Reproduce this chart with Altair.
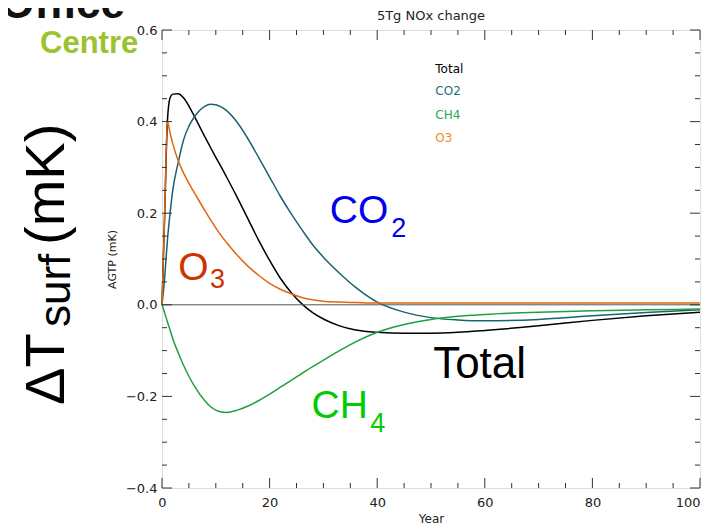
import altair as alt
import pandas as pd

# ---------------- data ----------------
years = [0, 0.5, 1, 1.5, 2, 3, 4, 5, 6, 8, 9, 10, 11, 12, 14, 16, 18, 20, 22, 24,
         26, 28, 30, 33, 36, 40, 45, 50, 55, 60, 70, 80, 90, 100]
total = [0, 0.20, 0.40, 0.452, 0.46, 0.461, 0.452, 0.434, 0.412, 0.366, 0.344, 0.322, 0.301, 0.279,
         0.234, 0.187, 0.14, 0.097, 0.058, 0.027, 0.002, -0.017, -0.031,
         -0.046, -0.055, -0.06, -0.062, -0.062, -0.06, -0.056, -0.046, -0.034, -0.024, -0.016]
co2 = [0, 0.06, 0.14, 0.20, 0.25, 0.31, 0.36, 0.39, 0.41, 0.434, 0.438, 0.437, 0.432, 0.424,
       0.398, 0.362, 0.321, 0.279, 0.237, 0.199, 0.164, 0.131, 0.104,
       0.069, 0.038, 0.006, -0.016, -0.028, -0.033, -0.035, -0.032, -0.024, -0.017, -0.011]
ch4 = [0, -0.018, -0.037, -0.055, -0.074, -0.104, -0.132, -0.156, -0.177, -0.21, -0.222, -0.23, -0.234, -0.235,
       -0.23, -0.221, -0.209, -0.195, -0.18, -0.165, -0.15, -0.135, -0.121,
       -0.1, -0.081, -0.06, -0.043, -0.032, -0.025, -0.021, -0.016, -0.013, -0.011, -0.009]
o3 = [0, 0.2, 0.4, 0.375, 0.352, 0.315, 0.288, 0.265, 0.245, 0.205, 0.186, 0.168, 0.151, 0.136,
      0.108, 0.084, 0.064, 0.047, 0.034, 0.024, 0.016, 0.011, 0.008,
      0.006, 0.005, 0.004, 0.004, 0.004, 0.004, 0.004, 0.004, 0.004, 0.004, 0.004]

series_names = ["Total", "CO2", "CH4", "O3"]
series_colors = ["#000000", "#17646f", "#1fa03e", "#e2650f"]
legend_colors = ["#000000", "#1d6b7a", "#2aa84a", "#f08a2a"]

x_major = [0, 20, 40, 60, 80, 100]
x_minor = [v for v in range(0, 101, 5) if v % 20]
y_major = [-0.4, -0.2, 0.0, 0.2, 0.4, 0.6]
y_minor = [round(-0.4 + 0.05 * i, 2) for i in range(21) if i % 4]

# ---------------- layout ----------------
W, H = 538, 458
FONT = "DejaVu Sans"
BIG = "Liberation Sans"
FRAME = "#333333"

rows = []
for name, vals in zip(series_names, [total, co2, ch4, o3]):
    for yr, v in zip(years, vals):
        rows.append({"year": yr, "value": v, "series": name, "k": series_names.index(name)})
df = pd.DataFrame(rows)

xscale = alt.Scale(domain=[0, 100], nice=False, zero=False)
yscale = alt.Scale(domain=[-0.4, 0.6], nice=False, zero=False)

XAX = alt.Axis(values=x_major, format="d", ticks=False, domain=False, grid=False,
               labelFont=FONT, labelFontSize=13, labelColor="#222222", labelPadding=8,
               labelFlush=False,
               labelAlign=alt.condition("datum.value >= 100", alt.value("right"), alt.value("center")),
               title="Year", titleFont=FONT, titleFontSize=12,
               titleFontWeight="normal", titleColor="#222222", titlePadding=4)
YAX = alt.Axis(values=y_major, format=".1f", ticks=False, domain=False, grid=False,
               labelFont=FONT, labelFontSize=13, labelColor="#222222", labelPadding=5,
               labelFlush=False, title="AGTP (mK)", titleFont=FONT, titleFontSize=11,
               titleFontWeight="normal", titleColor="#222222", titlePadding=8)


def X(field):
    return alt.X(field, scale=xscale, axis=XAX)


def Y(field):
    return alt.Y(field, scale=yscale, axis=YAX)


lines = alt.Chart(df).mark_line(strokeWidth=1.5, interpolate="monotone").encode(
    x=X("year:Q"),
    y=Y("value:Q"),
    color=alt.Color("series:N", scale=alt.Scale(domain=series_names, range=series_colors), legend=None),
    order=alt.Order("k:Q"),
)

zero_line = alt.Chart(pd.DataFrame({"z": [0.0]})).mark_rule(color="#555555", strokeWidth=1).encode(
    y=Y("z:Q")
)


def xticks(vals, L, top):
    d = pd.DataFrame({"v": vals})
    y0, y1 = (0, L) if top else (H, H - L)
    return alt.Chart(d).mark_rule(color=FRAME, strokeWidth=1).encode(
        x=X("v:Q"), y=alt.value(y0), y2=alt.value(y1))


def yticks(vals, L, right):
    d = pd.DataFrame({"v": vals})
    x0, x1 = (W, W - L) if right else (0, L)
    return alt.Chart(d).mark_rule(color=FRAME, strokeWidth=1).encode(
        y=Y("v:Q"), x=alt.value(x0), x2=alt.value(x1))


ticks = [xticks(x_major, 10, False), xticks(x_minor, 5, False),
         xticks(x_major, 10, True), xticks(x_minor, 5, True),
         yticks(y_major, 10, False), yticks(y_minor, 5, False),
         yticks(y_major, 10, True), yticks(y_minor, 5, True)]


def dtext(t, x, y, size, color, font=BIG, baseline="alphabetic"):
    return alt.Chart(pd.DataFrame({"x": [x], "y": [y], "t": [t]})).mark_text(
        align="left", baseline=baseline, font=font, fontSize=size, color=color
    ).encode(x=X("x:Q"), y=Y("y:Q"), text="t:N")


def ptext(t, px, py, size, color, font=BIG, angle=0, align="left", weight="normal"):
    return alt.Chart(pd.DataFrame({"t": [t]})).mark_text(
        align=align, baseline="alphabetic", font=font, fontSize=size, color=color,
        angle=angle, fontWeight=weight
    ).encode(x=alt.value(px), y=alt.value(py), text="t:N")


# in-plot big labels (data coordinates)
annots = [
    dtext("CO", 31.2, 0.179, 39, "#0000ee"),
    dtext("2", 42.6, 0.149, 27, "#0000ee"),
    dtext("O", 3.0, 0.055, 39, "#cc3300"),
    dtext("3", 8.9, 0.036, 27, "#cc3300"),
    dtext("Total", 50.4, -0.159, 44, "#000000"),
    dtext("CH", 27.8, -0.247, 39, "#00cc00"),
    dtext("4", 38.7, -0.277, 27, "#00cc00"),
]

# small legend text
legend_y = [0.515, 0.466, 0.415, 0.365]
legend = [dtext(n, 50.8, yv, 12, c, font=FONT, baseline="middle")
          for n, yv, c in zip(series_names, legend_y, legend_colors)]

# title, large left label and logo fragments (pixel positions outside the plot)
side = [
    ptext("5Tg NOx change", W / 2, -10, 13, "#222222", font=FONT, align="center"),
    ptext("ΔT", -98, 375, 56, "#000000", angle=270),
    ptext("surf", -92, 297, 44, "#000000", angle=270),
    ptext("(mK)", -98, 215, 56, "#000000", angle=270),
    ptext("Office", -37, -12, 44, "#111111", weight="bold", align="right"),
    ptext("Centre", -122, 23, 31, "#9dc22f", weight="bold"),
]

chart = alt.layer(lines, zero_line, *ticks, *annots, *legend, *side).properties(
    width=W, height=H,
    autosize=alt.AutoSizeParams(type="none"),
    padding={"left": 154, "top": 22, "right": 4, "bottom": 38},
).configure_view(stroke=FRAME, strokeWidth=1).configure(background="white")

chart.save("out.html", embed_options={"renderer": "svg", "actions": False})
